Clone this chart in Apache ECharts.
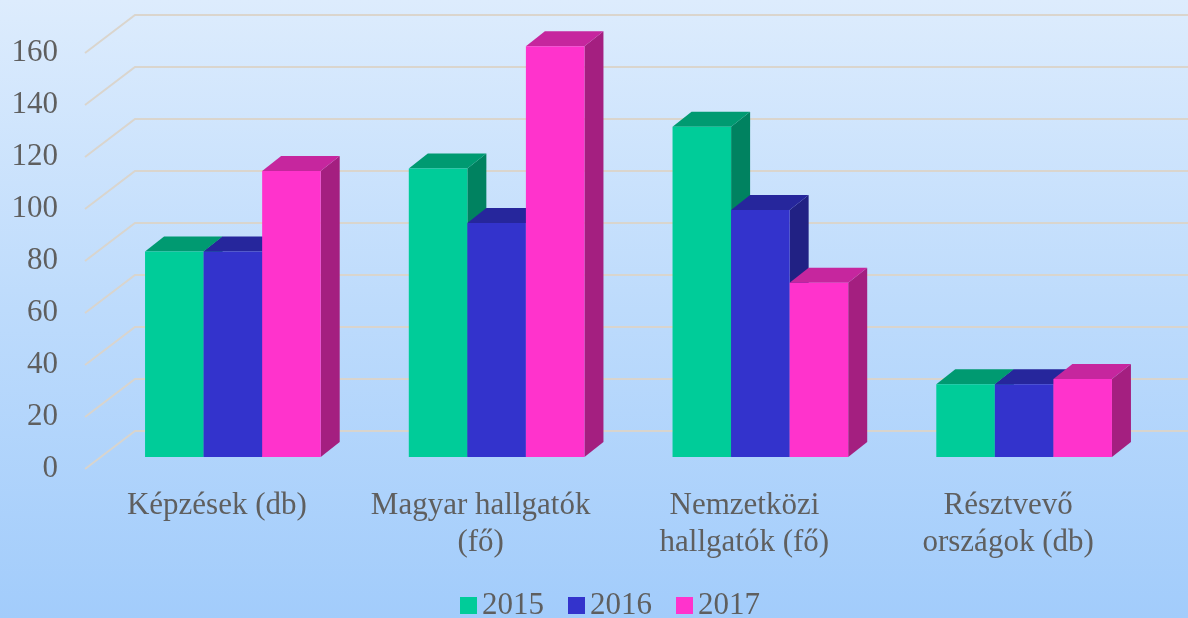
<!DOCTYPE html>
<html>
<head>
<meta charset="utf-8">
<script src="https://cdn.jsdelivr.net/npm/echarts@6/dist/echarts.min.js"></script>
<style>
	html, body { margin: 0; padding: 0; }
	#chart { width: 1188px; height: 618px; }
</style>
</head>
<body>
<div id="chart"></div>
<script>
// adatok
var categories = ['Képzések (db)', 'Magyar hallgatók\n(fő)', 'Nemzetközi\nhallgatók (fő)', 'Résztvevő\nországok (db)'];
var years = ['2015', '2016', '2017'];
var values2015 = [79, 111, 127, 28];
var values2016 = [79, 90, 95, 28];
var values2017 = [110, 158, 67, 30];
var yTicks = [0, 20, 40, 60, 80, 100, 120, 140, 160];

// szinek: elol, teteje, oldala
var faces = [
	['#00CC99', '#009A71', '#008260'],
	['#3333CC', '#26269C', '#212184'],
	['#FF33CC', '#C6269E', '#A41F80']
];

var labelFont = 'Liberation Serif';
var labelColor = '#5f5f5f';

// 3D oszlop rajzolasa
function barRenderer(idx) {
	return function (params, api) {
		var cat = api.value(0);
		var val = api.value(1);
		var base = api.coord([cat, 0]);
		var top = api.coord([cat, val]);
		var band = api.size([1, 0])[0];
		var bw = band * 0.222;
		var dx = 19, dy = -15; // oszlop melysege
		var x0 = base[0] - bw * 1.5 + idx * bw + 16;
		var x1 = x0 + bw;
		var yb = base[1] - 12;
		var yt = top[1] - 12;
		var c = faces[idx];
		return {
			type: 'group',
			children: [
				{
					type: 'polygon',
					shape: { points: [[x1, yb], [x1 + dx, yb + dy], [x1 + dx, yt + dy], [x1, yt]] },
					style: { fill: c[2] }
				},
				{
					type: 'polygon',
					shape: { points: [[x0, yt], [x0 + dx, yt + dy], [x1 + dx, yt + dy], [x1, yt]] },
					style: { fill: c[1] }
				},
				{
					type: 'rect',
					shape: { x: x0, y: yt, width: bw, height: yb - yt },
					style: { fill: c[0] }
				}
			]
		};
	};
}

// hatso fal racsvonalai
function gridRenderer(params, api) {
	var y = api.coord([0, api.value(1)])[1];
	var x = params.coordSys.x;
	return {
		type: 'polyline',
		shape: { points: [[x, y], [x + 50, y - 38], [api.getWidth(), y - 38]] },
		style: { stroke: 'rgba(218,212,202,0.95)', lineWidth: 2, fill: null }
	};
}

var myChart = echarts.init(document.getElementById('chart'));

var seriesValues = [values2015, values2016, values2017];
var series = [
	{
		type: 'custom',
		name: 'grid',
		renderItem: gridRenderer,
		data: yTicks.map(function (v) { return [0, v]; }),
		z: 1,
		silent: true
	}
];
years.forEach(function (y, i) {
	series.push({
		type: 'custom',
		name: y,
		renderItem: barRenderer(i),
		itemStyle: { color: faces[i][0] },
		data: seriesValues[i].map(function (v, k) { return [k, v]; }),
		z: 2 + i
	});
});

var option = {
	backgroundColor: new echarts.graphic.LinearGradient(0, 0, 0, 1, [
		{ offset: 0, color: '#DDECFD' },
		{ offset: 0.5, color: '#BDDBFC' },
		{ offset: 1, color: '#A2CCFB' }
	]),
	animation: false,
	grid: { left: 85, right: 48, top: 53, bottom: 149 },
	xAxis: {
		type: 'category',
		data: categories,
		axisLine: { show: false },
		axisTick: { show: false },
		splitLine: { show: false },
		axisLabel: {
			interval: 0,
			margin: 18,
			fontSize: 31,
			lineHeight: 37,
			fontFamily: labelFont,
			color: labelColor
		}
	},
	yAxis: {
		type: 'value',
		min: 0,
		max: 160,
		interval: 20,
		axisLine: { show: false },
		axisTick: { show: false },
		splitLine: { show: false },
		axisLabel: {
			margin: 27,
			fontSize: 31,
			fontFamily: labelFont,
			color: labelColor
		}
	},
	legend: {
		data: years,
		left: 460,
		top: 590,
		padding: 0,
		icon: 'rect',
		itemWidth: 17,
		itemHeight: 17,
		itemGap: 24,
		textStyle: { fontSize: 31, fontFamily: labelFont, color: labelColor }
	},
	series: series
};

myChart.setOption(option);
</script>
</body>
</html>
